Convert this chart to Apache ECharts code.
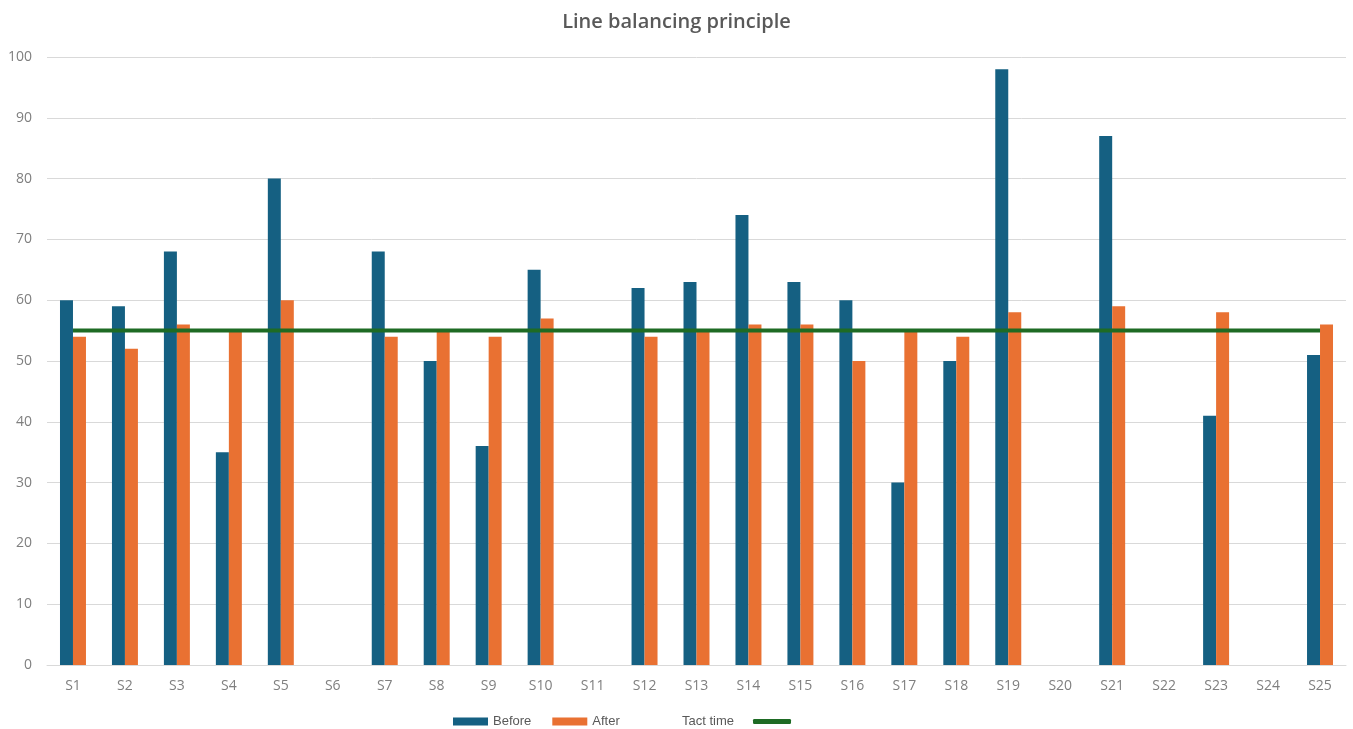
<!DOCTYPE html>
<html>
<head>
<meta charset="utf-8">
<title>Line balancing principle</title>
<script src="https://cdn.jsdelivr.net/npm/echarts@6/dist/echarts.min.js"></script>
<style>
  html, body { margin: 0; padding: 0; background: #ffffff; }
  #chart { width: 1353px; height: 729px; }
</style>
</head>
<body>
<div id="chart"></div>
<script>
// Workstations
const stations = ['S1','S2','S3','S4','S5','S6','S7','S8','S9','S10','S11','S12','S13',
                  'S14','S15','S16','S17','S18','S19','S20','S21','S22','S23','S24','S25'];
// Cycle time per station before balancing (null = no value)
const before = [60, 59, 68, 35, 80, null, 68, 50, 36, 65, null, 62, 63,
                74, 63, 60, 30, 50, 98, null, 87, null, 41, null, 51];
// Cycle time per station after balancing
const after = [54, 52, 56, 55, 60, null, 54, 55, 54, 57, null, 54, 55,
               56, 56, 50, 55, 54, 58, null, 59, null, 58, null, 56];
// Tact time target
const tactTime = 55;
const tactLine = stations.map(() => tactTime);

const chart = echarts.init(document.getElementById('chart'), null, { renderer: 'canvas' });

const labelColor = '#7f7f7f';
const fontFamily = '"Open Sans", "Noto Sans", sans-serif';
const legendFont = '"Liberation Sans", Arial, sans-serif';

chart.setOption({
  animation: false,
  title: {
    text: 'Line balancing principle',
    left: 'center',
    top: 7,
    textStyle: { color: '#595959', fontSize: 20, fontWeight: 600, fontFamily: fontFamily }
  },
  legend: [
    {
      data: ['Before', 'After'],
      left: 448,
      top: 710,
      itemWidth: 35,
      itemHeight: 8,
      itemGap: 21,
      icon: 'rect',
      textStyle: { color: '#595959', fontSize: 13, fontFamily: legendFont }
    },
    {
      data: ['Tact time'],
      left: 677,
      top: 710,
      align: 'right',
      icon: 'roundRect',
      itemWidth: 38,
      itemHeight: 5,
      textStyle: { color: '#595959', fontSize: 13, padding: [0, 14, 0, 0], fontFamily: legendFont }
    }
  ],
  grid: { left: 47, right: 7, top: 57, bottom: 64, containLabel: false },
  xAxis: {
    type: 'category',
    data: stations,
    boundaryGap: true,
    axisLine: { lineStyle: { color: '#d9d9d9', width: 1 } },
    axisTick: { show: false },
    axisLabel: { color: labelColor, fontSize: 14, margin: 14, fontFamily: fontFamily }
  },
  yAxis: {
    type: 'value',
    min: 0,
    max: 100,
    interval: 10,
    axisLine: { show: false },
    axisTick: { show: false },
    axisLabel: { color: labelColor, fontSize: 14, margin: 15, fontFamily: fontFamily },
    splitLine: { lineStyle: { color: '#d9d9d9', width: 1 } }
  },
  series: [
    {
      name: 'Before',
      type: 'bar',
      data: before,
      barWidth: '25%',
      barGap: '0%',
      itemStyle: { color: '#156082' }
    },
    {
      name: 'After',
      type: 'bar',
      data: after,
      barWidth: '25%',
      itemStyle: { color: '#E97132' }
    },
    {
      name: 'Tact time',
      type: 'line',
      data: tactLine,
      symbol: 'none',
      z: 5,
      lineStyle: { color: '#1E6B24', width: 4 },
      itemStyle: { color: '#1E6B24' }
    }
  ]
});
</script>
</body>
</html>
